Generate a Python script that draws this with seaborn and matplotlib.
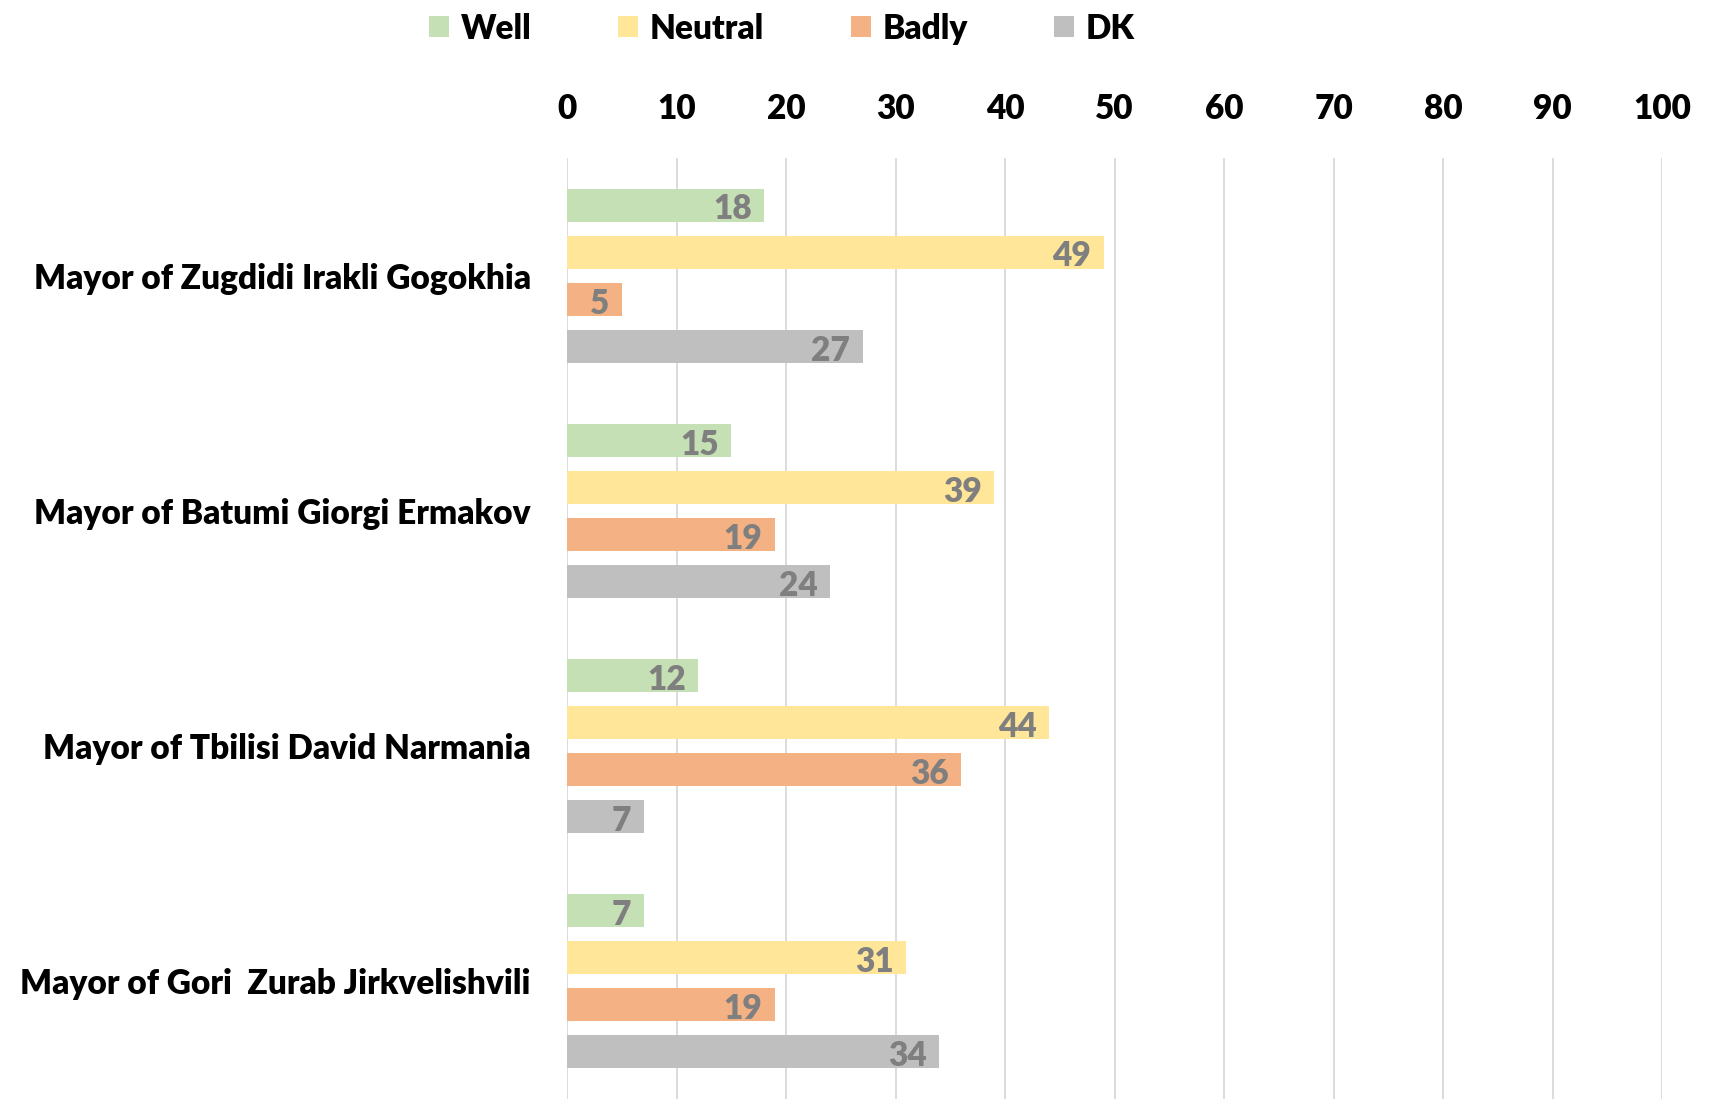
import numpy as np
import pandas as pd
import matplotlib.pyplot as plt
import seaborn as sns

# Evaluation of mayors' performance (%)
mayors = [
    "Mayor of Zugdidi Irakli Gogokhia",
    "Mayor of Batumi Giorgi Ermakov",
    "Mayor of Tbilisi David Narmania",
    "Mayor of Gori  Zurab Jirkvelishvili",
]
answers = ["Well", "Neutral", "Badly", "DK"]
well = [18, 15, 12, 7]
neutral = [49, 39, 44, 31]
badly = [5, 19, 36, 19]
dk = [27, 24, 7, 34]

colors = ["#C5E0B4", "#FFE699", "#F4B183", "#BFBFBF"]

df = pd.DataFrame({
    "mayor": mayors * 4,
    "answer": np.repeat(answers, len(mayors)),
    "value": well + neutral + badly + dk,
})

sns.set_theme(style="white")
plt.rcParams["font.family"] = ["Lato", "DejaVu Sans"]
plt.rcParams["font.weight"] = "bold"
plt.rcParams["text.color"] = "black"
plt.rcParams["xtick.color"] = "black"
plt.rcParams["ytick.color"] = "black"

fs = 24

fig = plt.figure(figsize=(17.11, 10.99), dpi=100)
ax = fig.add_axes([0.3314, 0.0, 0.64, 0.856])

sns.barplot(
    data=df,
    x="value",
    y="mayor",
    hue="answer",
    order=mayors,
    hue_order=answers,
    palette=colors,
    saturation=1,
    orient="h",
    width=0.8,
    gap=0.3,
    linewidth=0,
    ax=ax,
)

# value labels inside the bar ends
for container in ax.containers:
    labels = ax.bar_label(container, fmt="%d", padding=-9, fontsize=fs,
                          fontweight="heavy", color="#7F7F7F")
    for t in labels:
        t.set_ha("right")
        t.set_va("center")
        x, y = t.xyann
        t.xyann = (x, y - 3)

ax.set_xlim(0, 100)
ax.set_ylim(3.5, -0.5)
ax.set_xticks(range(0, 101, 10))
ax.xaxis.tick_top()
ax.tick_params(axis="x", length=0, pad=24, labelsize=fs, labelcolor="black")
ax.tick_params(axis="y", length=0, pad=26, labelsize=fs, labelcolor="black")
for lab in ax.get_xticklabels() + ax.get_yticklabels():
    lab.set_fontweight("heavy")
ax.set_xlabel("")
ax.set_ylabel("")
ax.grid(axis="x", color="#D9D9D9", linewidth=1.3)
ax.set_axisbelow(True)
sns.despine(ax=ax, left=True, bottom=True, top=True, right=True)

handles, labs = ax.get_legend_handles_labels()
ax.get_legend().remove()
leg = fig.legend(
    handles, labs,
    loc="center",
    bbox_to_anchor=(0.457, 0.974),
    ncol=4,
    frameon=False,
    fontsize=fs,
    handlelength=0.6,
    handleheight=0.6,
    handletextpad=0.35,
    columnspacing=2.6,
)
for t in leg.get_texts():
    t.set_fontweight("heavy")

plt.savefig("out.png", dpi=100)
